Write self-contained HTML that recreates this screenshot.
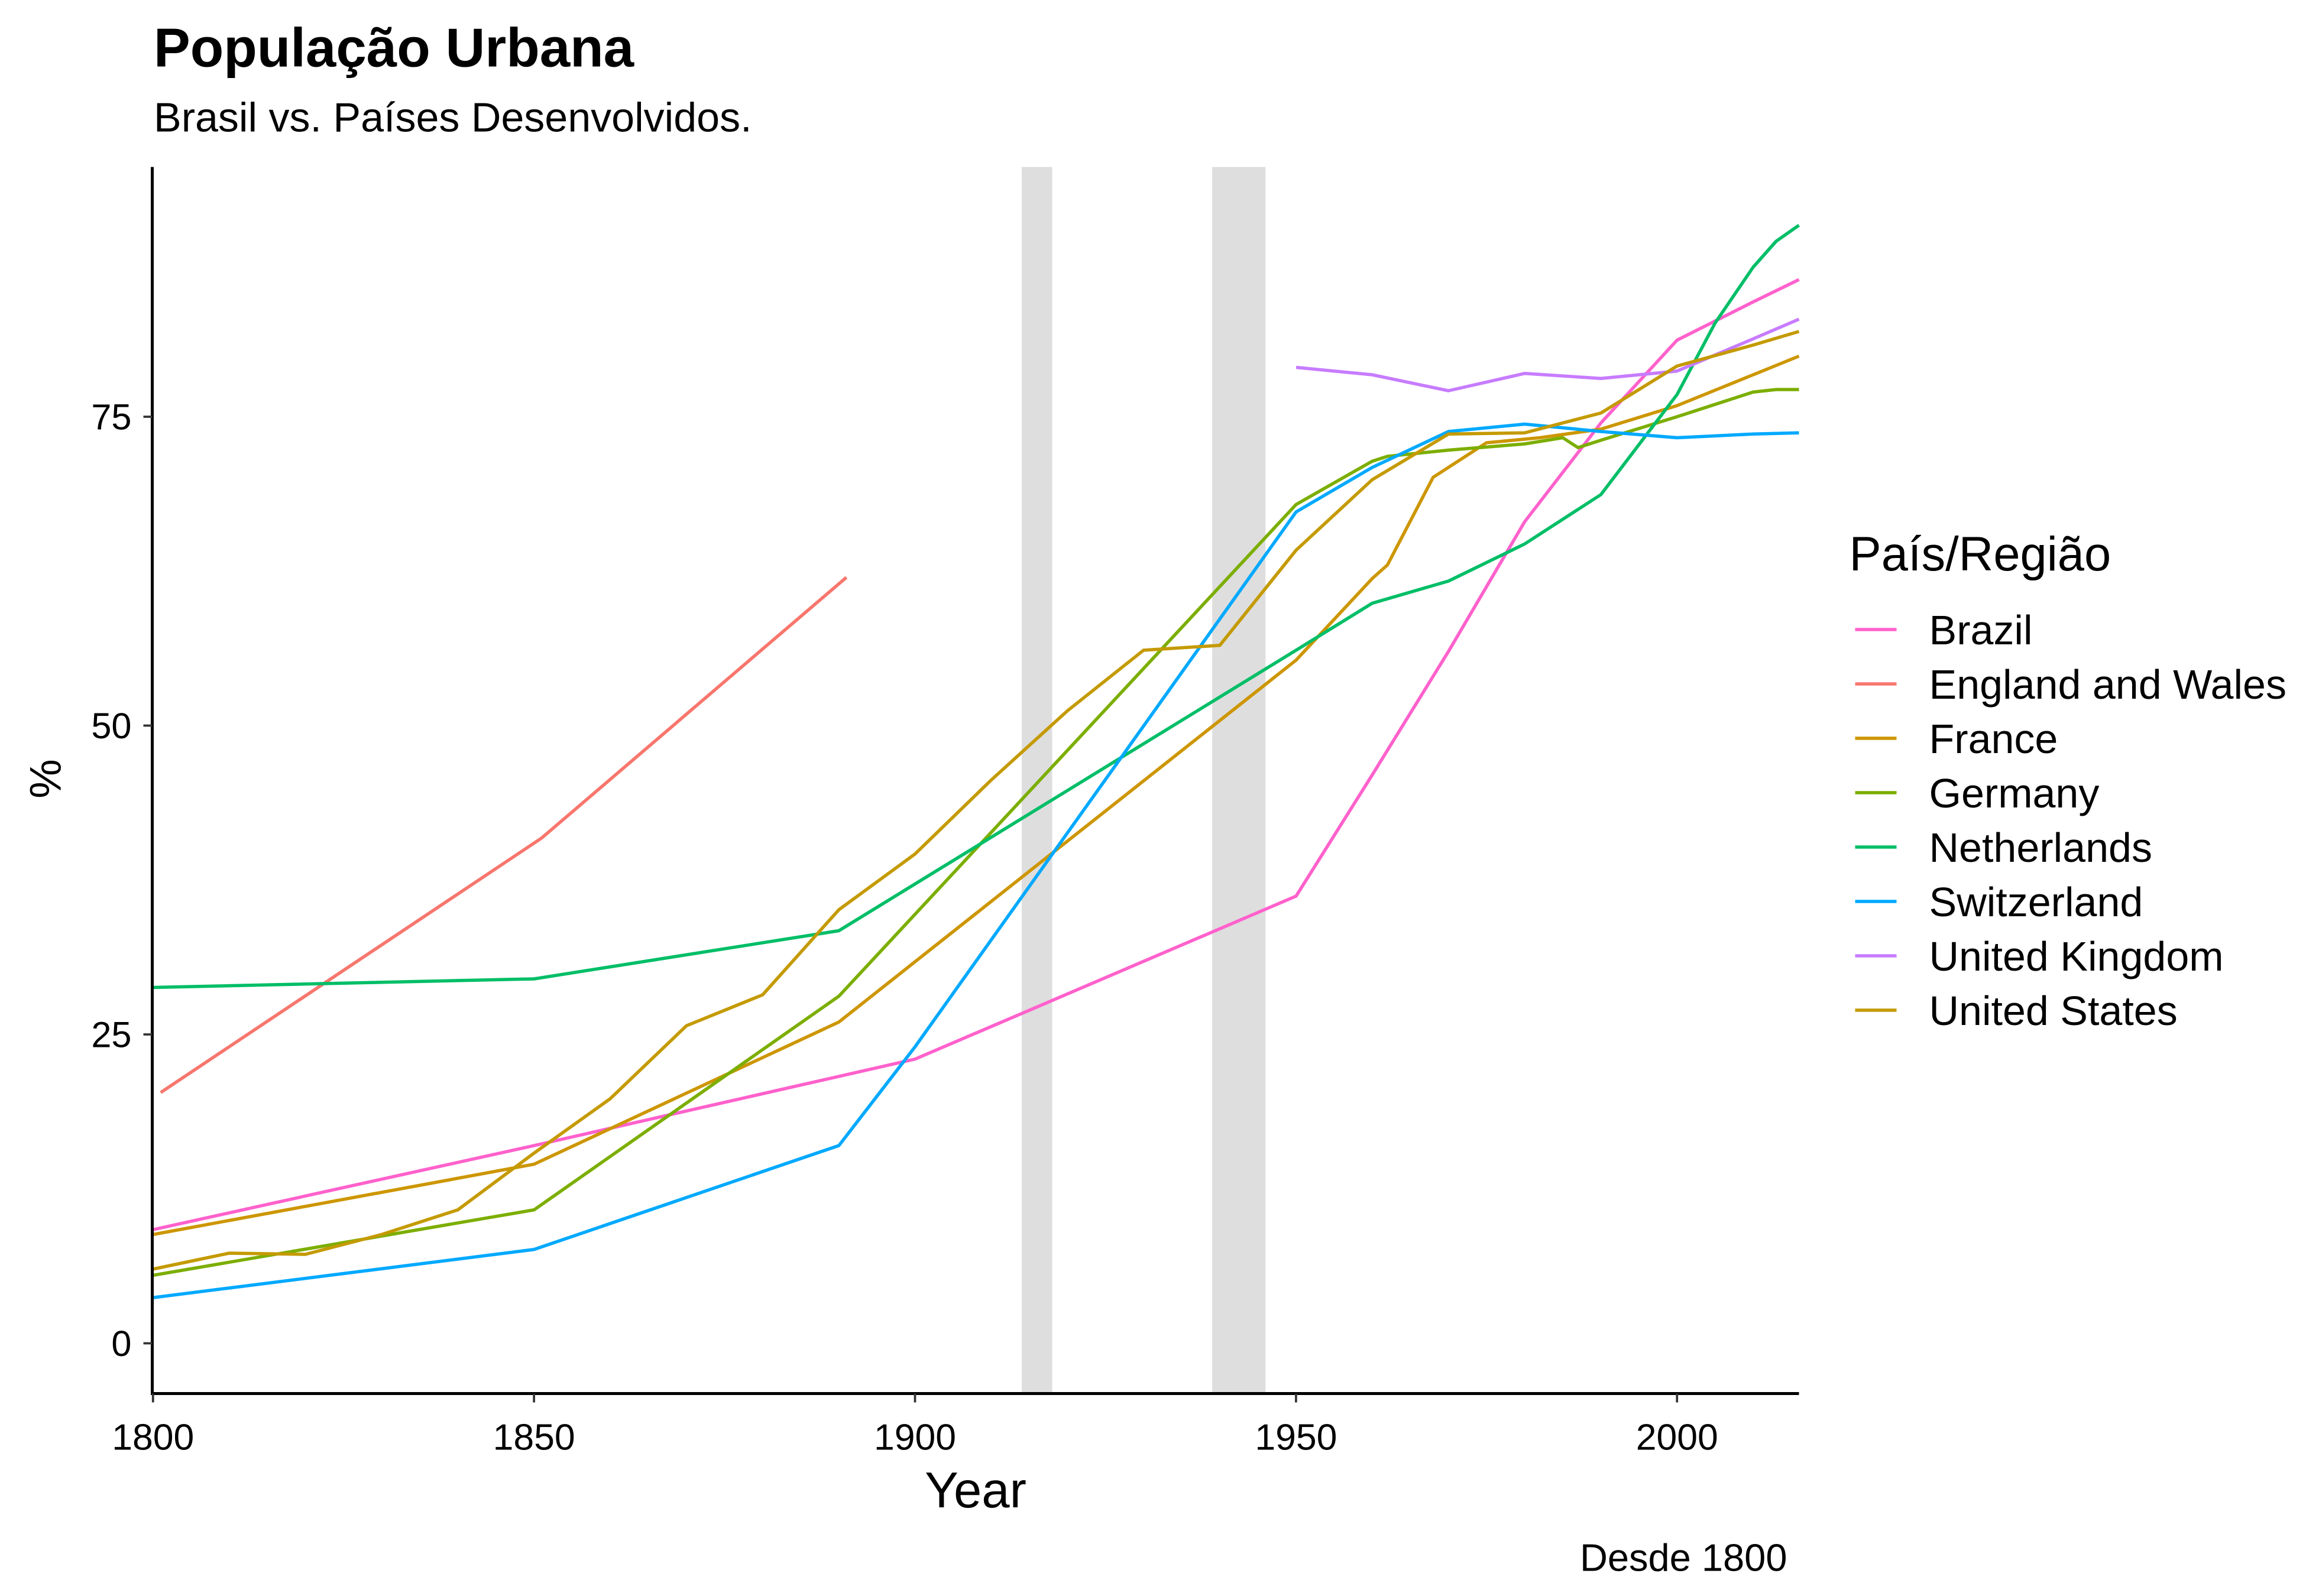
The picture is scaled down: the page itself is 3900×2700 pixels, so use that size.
<!DOCTYPE html>
<html><head><meta charset="utf-8"><style>html,body{margin:0;padding:0;background:#fff}svg{display:block}</style></head>
<body>
<svg id="chart" width="3900" height="2700" viewBox="0 0 1560 1080" xmlns="http://www.w3.org/2000/svg" font-family="'Liberation Sans', Arial, sans-serif">
<rect width="1560" height="1080" fill="#fff"/>
<text x="104" y="45" font-size="37" font-weight="bold">População Urbana</text>
<text x="104" y="89" font-size="28">Brasil vs. Países Desenvolvidos.</text>
<g id="bands"></g><g id="lines"></g><g id="axes"></g><g id="legend"></g>
<text transform="translate(41,527) rotate(-90)" text-anchor="middle" font-size="30">%</text>
<text x="660" y="1020" text-anchor="middle" font-size="34">Year</text>
<text x="1209" y="1063" text-anchor="end" font-size="26">Desde 1800</text>
</svg>
<script>
const seriesNames=["Brazil","England and Wales","France","Germany","Netherlands","Switzerland","United Kingdom","United States"];
const seriesColors=["#FF61CC","#F8766D","#CD9600","#7CAE00","#00BE67","#00A9FF","#C77CFF","#C49A00"];
const brazilYears=[1800,1850,1900,1950,1960,1970,1980,1990,2000,2010,2016];
const brazilValues=[9.2,16.0,23.0,36.2,46,56,66.5,74.5,81.2,84.3,86.1];
const englandYears=[1801,1851,1891];
const englandValues=[20.3,40.9,62.0];
const franceYears=[1800,1850,1890,1950,1960,1962,1968,1975,1982,1990,2000,2010,2016];
const franceValues=[8.8,14.5,26.0,55.3,61.9,63,70.1,72.9,73.3,74.0,75.9,78.4,79.9];
const germanyYears=[1800,1850,1890,1950,1960,1962,1970,1980,1985,1987,1990,2000,2010,2013,2016];
const germanyValues=[5.5,10.8,28.1,67.9,71.4,71.8,72.3,72.8,73.3,72.5,73.1,75.0,77.0,77.2,77.2];
const netherlandsYears=[1800,1850,1890,1950,1960,1970,1980,1990,2000,2005,2010,2013,2016];
const netherlandsValues=[28.8,29.5,33.4,56.1,59.9,61.7,64.7,68.7,76.8,82.6,87.1,89.2,90.5];
const switzerlandYears=[1800,1850,1890,1900,1950,1960,1970,1980,1990,2000,2010,2016];
const switzerlandValues=[3.7,7.6,16.0,24,67.3,70.9,73.8,74.4,73.8,73.3,73.6,73.7];
const ukYears=[1950,1960,1970,1980,1990,2000,2010,2016];
const ukValues=[79.0,78.4,77.1,78.5,78.1,78.7,81.3,82.9];
const usYears=[1800,1810,1820,1830,1840,1850,1860,1870,1880,1890,1900,1910,1920,1930,1940,1950,1960,1970,1980,1990,2000,2010,2016];
const usValues=[6.0,7.3,7.2,8.8,10.8,15.4,19.8,25.7,28.2,35.1,39.6,45.6,51.2,56.1,56.5,64.2,69.9,73.6,73.7,75.3,79.1,80.8,81.9];
const warStarts=[1914,1939];
const warEnds=[1918,1946];
const xTicks=[1800,1850,1900,1950,2000];
const yTicks=[0,25,50,75];

const NS="http://www.w3.org/2000/svg";
const X0=103.5,Y0=909;
const xs=v=>X0+(v-1800)*5.155;
const ys=v=>Y0-v*8.36;
function mk(tag,attrs,parent){const e=document.createElementNS(NS,tag);for(const k in attrs)e.setAttribute(k,attrs[k]);parent.appendChild(e);return e;}
const bands=document.getElementById('bands'),lines=document.getElementById('lines'),axes=document.getElementById('axes'),legend=document.getElementById('legend');
for(let i=0;i<warStarts.length;i++){
 const r=mk('rect',{x:xs(warStarts[i]),y:113,width:xs(warEnds[i])-xs(warStarts[i]),height:830,fill:'#dedede'},bands);
 
 
}
const allYears=[brazilYears,englandYears,franceYears,germanyYears,netherlandsYears,switzerlandYears,ukYears,usYears];
const allValues=[brazilValues,englandValues,franceValues,germanyValues,netherlandsValues,switzerlandValues,ukValues,usValues];
for(let s=0;s<seriesNames.length;s++){
 const pts=allYears[s].map((y,i)=>xs(y).toFixed(1)+','+ys(allValues[s][i]).toFixed(1)).join(' ');
 const p=mk('polyline',{points:pts,fill:'none',stroke:seriesColors[s],'stroke-width':2.2,'stroke-linejoin':'round'},lines);
 
 
}
const ya=mk('line',{x1:103,y1:113,x2:103,y2:944,stroke:'#000','stroke-width':2},axes);


const xa=mk('line',{x1:102,y1:943,x2:1217,y2:943,stroke:'#000','stroke-width':2},axes);


yTicks.forEach(t=>{
 mk('line',{x1:97,x2:103,y1:ys(t),y2:ys(t),stroke:'#333','stroke-width':1.5},axes);
 const tx=mk('text',{x:89,y:ys(t)+8.5,'text-anchor':'end','font-size':24.5,fill:'#000'},axes);
 tx.textContent=t;
 
 
});
xTicks.forEach(t=>{
 mk('line',{x1:xs(t),x2:xs(t),y1:943,y2:949,stroke:'#333','stroke-width':1.5},axes);
 const tx=mk('text',{x:xs(t),y:981,'text-anchor':'middle','font-size':25,fill:'#000'},axes);
 tx.textContent=t;
 
 
});
const lt=mk('text',{x:1251,y:386,'font-size':32.5},legend);
lt.textContent='País/Região';


seriesNames.forEach((n,i)=>{
 const y=426+i*36.8;
 const g=mk('g',{},legend);
 
 
 mk('line',{x1:1255,x2:1283,y1:y,y2:y,stroke:seriesColors[i],'stroke-width':2.2},g);
 const t=mk('text',{x:1305,y:y+10,'font-size':28},g);
 t.textContent=n;
});
</script>
</body></html>
